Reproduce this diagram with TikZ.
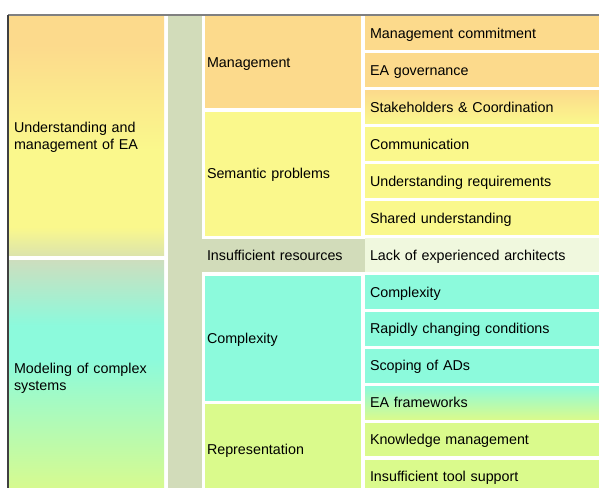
\documentclass[tikz,border=0pt]{standalone}
\usepackage{fontspec}
\setmainfont{Liberation Sans}
\definecolor{mgmtorange}{RGB}{252,218,140}
\definecolor{semyellow}{RGB}{250,248,140}
\definecolor{stripgreen}{RGB}{210,220,186}
\definecolor{lackgreen}{RGB}{240,248,222}
\definecolor{cplxcyan}{RGB}{140,250,220}
\definecolor{repgreen}{RGB}{218,250,140}
\definecolor{uagray}{RGB}{220,228,172}
\definecolor{modgray}{RGB}{205,222,190}
\pgfdeclareverticalshading{understandshade}{100bp}{color(0bp)=(uagray); color(25bp)=(uagray);
  color(31bp)=(semyellow); color(47bp)=(semyellow); color(69bp)=(mgmtorange); color(100bp)=(mgmtorange)}
\pgfdeclareverticalshading{modelshade}{100bp}{color(0bp)=(repgreen); color(25bp)=(repgreen);
  color(54bp)=(cplxcyan); color(61bp)=(cplxcyan); color(75bp)=(modgray); color(100bp)=(modgray)}
\begin{document}
\begin{tikzpicture}
[x=1bp,y=-1bp,
 every node/.style=
   {rectangle,anchor=north west,inner sep=0bp,outer sep=0bp,align=left,
    text height=10.2bp,text depth=0bp,font=\fontsize{14.35}{16.5}\selectfont},
 area/.style={minimum width=155bp,text width=145bp,inner xsep=5bp,text depth=16.5bp},
 group/.style={minimum width=156bp,text width=152bp,inner xsep=2bp},
 item/.style={minimum width=234bp,text width=224bp,inner xsep=5bp,minimum height=33.5bp}]
\path [use as bounding box] (0,0) rectangle (599,488);
\fill [white] (0,0) rectangle (599,488);
\begin{scope}
\clip (0,0) rectangle (599,488);

% first level
\node (understand) [area,minimum height=239.2bp,shade,shading=understandshade] at (9,16.5)
  {Understanding and\\management of EA};
\node (model) [area,minimum height=234bp,shade,shading=modelshade] at (9,260)
  {Modeling of complex\\systems};

% second level
\node (strip) [fill=stripgreen,minimum width=34bp,minimum height=478bp] at (168,16.5) {};
\node (mgmt) [group,minimum height=91.8bp,fill=mgmtorange] at (205,16.5) {Management};
\node (sem) [group,minimum height=124.3bp,fill=semyellow] at (205,111.7) {Semantic problems};
\node (insuf) [group,minimum width=159bp,text width=154bp,inner xsep=5bp,minimum height=33.8bp,
  fill=stripgreen] at (202,238.5) {Insufficient resources};
\node (cplx) [group,minimum height=125.5bp,fill=cplxcyan] at (205,275.5) {Complexity};
\node (rep) [group,minimum height=90bp,fill=repgreen] at (205,404.3) {Representation};

% leaves
\node (commit) [item,fill=mgmtorange] at (365,16.5) {Management commitment};
\node (gov) [item,fill=mgmtorange] at (365,53.45) {EA governance};
\node (stake) [item,top color=mgmtorange,bottom color=semyellow] at (365,90.4)
  {Stakeholders \& Coordination};
\node (comm) [item,fill=semyellow] at (365,127.35) {Communication};
\node (req) [item,fill=semyellow] at (365,164.3) {Understanding requirements};
\node (shared) [item,fill=semyellow] at (365,201.25) {Shared understanding};
\node (lack) [item,fill=lackgreen] at (365,238.2) {Lack of experienced architects};
\node (cplxleaf) [item,fill=cplxcyan] at (365,275.15) {Complexity};
\node (rapid) [item,fill=cplxcyan] at (365,312.1) {Rapidly changing conditions};
\node (scope) [item,fill=cplxcyan] at (365,349.05) {Scoping of ADs};
\node (frame) [item,top color=cplxcyan,bottom color=repgreen] at (365,386) {EA frameworks};
\node (know) [item,fill=repgreen] at (365,422.95) {Knowledge management};
\node (tool) [item,fill=repgreen] at (365,459.9) {Insufficient tool support};

\draw [line width=1.2bp, black!50] (8,15) -- (599,15);
\draw [line width=1.3bp, black!75] (8,15) -- (8,488);
\end{scope}
\end{tikzpicture}
\end{document}
